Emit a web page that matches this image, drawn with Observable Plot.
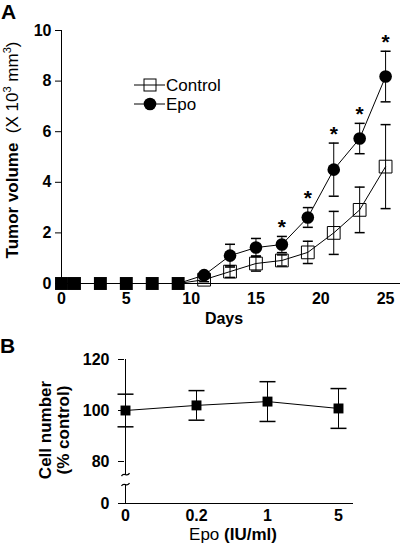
<!DOCTYPE html>
<html><head><meta charset="utf-8">
<script src="https://cdn.jsdelivr.net/npm/d3@7"></script>
<script src="https://cdn.jsdelivr.net/npm/@observablehq/plot@0.6"></script>
<style>
body{margin:0;background:#fff;font-family:"Liberation Sans",Arial,sans-serif;}
#wrap{position:relative;width:400px;height:545px;overflow:hidden;}
#a{position:absolute;left:0;top:0;}
#b{position:absolute;left:0;top:330px;}
#legend{position:absolute;left:126px;top:72px;}
</style></head><body>
<div id="wrap"><div id="a"></div><div id="b"></div>
<svg id="legend" width="110" height="44" font-family="Liberation Sans, Arial, sans-serif" font-size="17">
  <line x1="8" x2="39" y1="13" y2="13" stroke="black"/>
  <rect x="18" y="7" width="12" height="12" fill="none" stroke="black"/>
  <text x="40" y="19">Control</text>
  <line x1="8" x2="39" y1="32" y2="32" stroke="black"/>
  <circle cx="24" cy="32" r="6.3" fill="black"/>
  <text x="40" y="38">Epo</text>
</svg>
</div>
<script>
// ---- Panel A data ----
const sharedDays = [0, 1, 3, 5, 7, 9];           // both groups at zero
const treatDays  = [11, 13, 15, 17, 19, 21, 23, 25];
const controlMean = [0.15, 0.47, 0.79, 0.91, 1.23, 2.0, 2.91, 4.62];
const controlErr  = [0.08, 0.23, 0.30, 0.22, 0.44, 0.85, 0.90, 1.66];
const epoMean     = [0.33, 1.10, 1.42, 1.54, 2.61, 4.50, 5.73, 8.18];
const epoErr      = [0.10, 0.45, 0.36, 0.32, 0.39, 1.05, 0.60, 1.00];
const significantDays = [17, 19, 21, 23, 25];
const xTicksA = [0, 5, 10, 15, 20, 25];
const yTicksA = [0, 2, 4, 6, 8, 10];

// ---- Panel B data ----
const epoDoses = ["0", "0.2", "1", "5"];
const cellMean = [100, 102, 103.5, 100.8];
const cellErr  = [6.4, 5.8, 7.8, 7.8];
const yTicksB  = [0, 80, 100, 120];
const axisBreakB = [36, 55];

const FONT = "Liberation Sans, Arial, Helvetica, sans-serif";
const cap = w => ({draw(ctx){ctx.moveTo(-w,0);ctx.lineTo(w,0);}});
const squiggle = {draw(ctx){ctx.moveTo(-4,1.5);ctx.bezierCurveTo(-1.5,-3.5,1.5,3.5,4,-1.5);}};

const zeroPts = sharedDays.map(d => ({day:d, v:0}));
const ctrl = treatDays.map((d,i) => ({day:d, v:controlMean[i], e:controlErr[i]}));
const epo  = treatDays.map((d,i) => ({day:d, v:epoMean[i], e:epoErr[i]}));
const stars = epo.filter(d => significantDays.includes(d.day));

const plotA = Plot.plot({
  width:400, height:330, marginLeft:61, marginRight:0, marginTop:30, marginBottom:47,
  style:{fontFamily:FONT, fontSize:"16px", fontWeight:"bold", color:"black", background:"white", overflow:"visible"},
  x:{domain:[0,26.15], ticks:xTicksA, tickSize:0, tickPadding:9, label:null},
  y:{domain:[0,10], ticks:yTicksA, tickSize:6, tickPadding:4, label:null},
  marks:[
    Plot.ruleY([0], {stroke:"black"}),
    Plot.ruleX([0], {y1:yTicksA[0], y2:yTicksA[yTicksA.length-1], stroke:"black"}),
    Plot.line(zeroPts.concat(ctrl), {x:"day", y:"v", stroke:"black", strokeWidth:1}),
    Plot.line(zeroPts.concat(epo), {x:"day", y:"v", stroke:"black", strokeWidth:1}),
    Plot.ruleX(ctrl, {x:"day", y1:d=>d.v-d.e, y2:d=>d.v+d.e, stroke:"black"}),
    Plot.dot(ctrl, {x:"day", y:d=>d.v+d.e, symbol:cap(5), fill:"none", stroke:"black"}),
    Plot.dot(ctrl, {x:"day", y:d=>d.v-d.e, symbol:cap(5), fill:"none", stroke:"black"}),
    Plot.ruleX(epo, {x:"day", y1:d=>d.v-d.e, y2:d=>d.v+d.e, stroke:"black"}),
    Plot.dot(epo, {x:"day", y:d=>d.v+d.e, symbol:cap(5), fill:"none", stroke:"black"}),
    Plot.dot(epo, {x:"day", y:d=>d.v-d.e, symbol:cap(5), fill:"none", stroke:"black"}),
    Plot.dot(ctrl, {x:"day", y:"v", symbol:"square", r:7.2, fill:"none", stroke:"black", strokeWidth:1}),
    Plot.dot(epo, {x:"day", y:"v", symbol:"circle", r:6.3, fill:"black", stroke:"none"}),
    Plot.dot(zeroPts, {x:"day", y:"v", symbol:"square", r:7.3, fill:"black", stroke:"none"}),
    Plot.text(stars, {x:"day", y:d=>d.v+d.e, text:()=>"*", dy:-9, fontSize:21, fontWeight:"bold", fill:"black"})
  ]
});
document.getElementById("a").appendChild(plotA);

const cells = epoDoses.map((d,i) => ({dose:d, v:cellMean[i], e:cellErr[i]}));
const plotB = Plot.plot({
  width:400, height:215, marginLeft:124, marginRight:47, marginTop:29, marginBottom:42,
  style:{fontFamily:FONT, fontSize:"16px", fontWeight:"bold", color:"black", background:"white", overflow:"visible"},
  x:{type:"point", domain:epoDoses, padding:0, insetRight:15, tickSize:0, tickPadding:6, label:null},
  y:{type:"linear", domain:[0,80,120], range:[173,131,29], ticks:yTicksB, tickSize:6, tickPadding:9, label:null},
  marks:[
    Plot.ruleY([0], {stroke:"black"}),
    Plot.ruleX([epoDoses[0]], {y1:0, y2:axisBreakB[0], stroke:"black"}),
    Plot.ruleX([epoDoses[0]], {y1:axisBreakB[1], y2:120, stroke:"black"}),
    Plot.dot(axisBreakB, {x:()=>epoDoses[0], y:d=>d, symbol:squiggle, fill:"none", stroke:"black", strokeWidth:1.2}),
    Plot.line(cells, {x:"dose", y:"v", stroke:"black", strokeWidth:1}),
    Plot.ruleX(cells, {x:"dose", y1:d=>d.v-d.e, y2:d=>d.v+d.e, stroke:"black"}),
    Plot.dot(cells, {x:"dose", y:d=>d.v+d.e, symbol:cap(8), fill:"none", stroke:"black"}),
    Plot.dot(cells, {x:"dose", y:d=>d.v-d.e, symbol:cap(8), fill:"none", stroke:"black"}),
    Plot.dot(cells, {x:"dose", y:"v", symbol:"square", r:5.6, fill:"black", stroke:"none"})
  ]
});
document.getElementById("b").appendChild(plotB);

// Labels
const sa = d3.select(plotA);
sa.append("text").attr("x",1).attr("y",19).attr("text-anchor","start").attr("font-size",21).attr("font-weight","bold").attr("fill","black").text("A");
sa.append("text").attr("x",224).attr("y",324).attr("text-anchor","middle").attr("font-size",16).attr("font-weight","bold").attr("fill","black").text("Days");
const yl = sa.append("text").attr("transform","translate(18,150) rotate(-90)").attr("text-anchor","middle").attr("font-size",17).attr("fill","black");
yl.append("tspan").attr("font-weight","bold").text("Tumor volume ");
yl.append("tspan").attr("font-weight","normal").text(" (X 10");
yl.append("tspan").attr("font-weight","normal").attr("font-size",11).attr("dy",-7).text("3");
yl.append("tspan").attr("font-weight","normal").attr("dy",7).text(" mm");
yl.append("tspan").attr("font-weight","normal").attr("font-size",11).attr("dy",-7).text("3");
yl.append("tspan").attr("font-weight","normal").attr("dy",7).text(")");

const sb = d3.select(plotB);
sb.append("text").attr("x",0).attr("y",23).attr("text-anchor","start").attr("font-size",21).attr("font-weight","bold").attr("fill","black").text("B");
const bl = sb.append("text").attr("transform","translate(51,100) rotate(-90)").attr("text-anchor","middle").attr("font-size",17).attr("font-weight","bold").attr("fill","black");
bl.append("tspan").attr("x",0).attr("dy",0).text("Cell number");
bl.append("tspan").attr("x",0).attr("dy",18).text("(% control)");
const xl = sb.append("text").attr("x",233).attr("y",210).attr("text-anchor","middle").attr("font-size",17).attr("fill","black");
xl.append("tspan").attr("font-weight","normal").text("Epo ");
xl.append("tspan").attr("font-weight","bold").text("(IU/ml)");
</script>
</body></html>
